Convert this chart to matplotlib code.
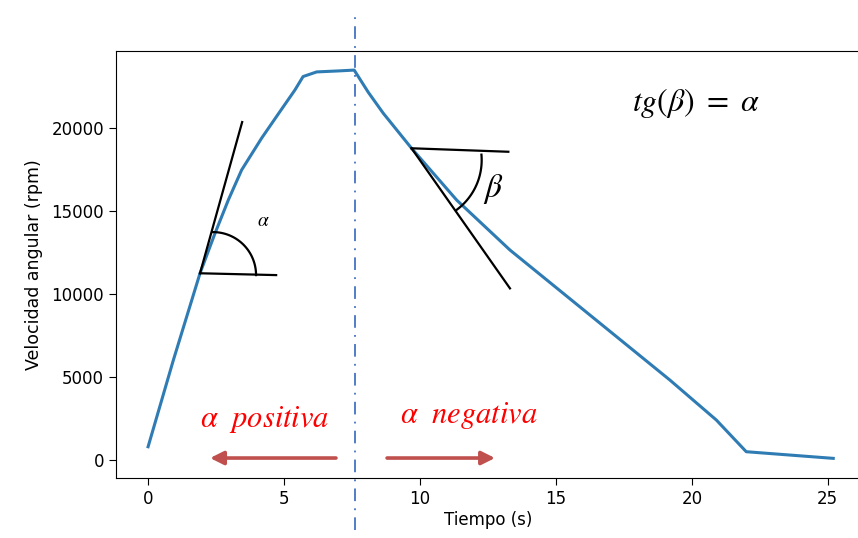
import numpy as np
import matplotlib.pyplot as plt

# datos
tiempo = [0.0, 0.93, 1.91, 2.46, 2.95, 3.44, 4.18, 4.79, 5.4, 5.7, 6.2, 7.0, 7.58,
          8.1, 8.65, 9.69, 11.35, 13.31, 15.27, 17.23, 19.19, 20.9, 22.0, 25.2]
velocidad = [800, 6020, 11250, 13650, 15660, 17470, 19400, 20850, 22290, 23100, 23380, 23440, 23490,
             22150, 20890, 18780, 15660, 12650, 10040, 7430, 4820, 2410, 500, 100]

x_ticks = [0, 5, 10, 15, 20, 25]
y_ticks = [0, 5000, 10000, 15000, 20000]

t_corte = 7.6

# tangentes (vertice, extremo de tangente, extremo horizontal)
tan_pos = [(1.91, 11250), (3.46, 20360), (4.71, 11140)]
tan_neg = [(9.69, 18780), (13.31, 10340), (13.25, 18570)]

plt.rcParams['mathtext.fontset'] = 'stix'

fig = plt.figure(figsize=(8.58, 5.38), dpi=100)
ax = fig.add_axes([0.1352, 0.1115, 0.867, 0.7937])

ax.plot(tiempo, velocidad, color='#2f7cb4', lw=2.2)

ax.set_xlim(-1.18, 26.18)
ax.set_ylim(-1084, 24640)
ax.set_xticks(x_ticks)
ax.set_yticks(y_ticks)
ax.tick_params(labelsize=12, length=5)
ax.set_xlabel('Tiempo (s)', fontsize=12, labelpad=2)
ax.set_ylabel('Velocidad angular (rpm)', fontsize=12.5, labelpad=6)
ax.spines['right'].set_visible(False)

# linea vertical de corte
ax.axvline(t_corte, ymin=-0.122, ymax=1.091, clip_on=False, color='#4472c4',
           lw=1.3, ls=(0, (7, 4, 1, 4)))

# escala: pixeles -> datos
sx = 1 / 27.2
sy = 5000 / 83


def arco(cx, cy, r, a1, a2):  # arco circular en pantalla
    t = np.radians(np.linspace(a1, a2, 60))
    ax.plot(cx + r * sx * np.cos(t), cy + r * sy * np.sin(t), color='black', lw=1.6)


for v, a, b in [tan_pos, tan_neg]:
    ax.plot([v[0], a[0]], [v[1], a[1]], color='black', lw=1.6)
    ax.plot([v[0], b[0]], [v[1], b[1]], color='black', lw=1.6)

arco(2.39, 11140, 43, 0, 90)
arco(9.99, 18070, 62, -54, 5)

ax.text(4.23, 14400, r'$\alpha$', fontsize=14, ha='center', va='center')
ax.text(12.7, 16300, r'$\beta$', fontsize=24, ha='center', va='center')
ax.text(20.15, 21500, r'$tg(\beta)\ =\ \alpha$', fontsize=23, ha='center', va='center')

ax.text(4.3, 2450, r'$\alpha\ \ positiva$', fontsize=22, color='red', ha='center', va='center')
ax.text(11.8, 2700, r'$\alpha\ \ negativa$', fontsize=22, color='red', ha='center', va='center')

flecha = dict(arrowstyle='-|>', lw=2.6, mutation_scale=20, color='#c0504d',
              shrinkA=0, shrinkB=0)
ax.annotate('', xy=(2.28, 120), xytext=(6.91, 120), arrowprops=flecha)
ax.annotate('', xy=(12.76, 120), xytext=(8.79, 120), arrowprops=flecha)

fig.savefig('out.png', dpi=100)
